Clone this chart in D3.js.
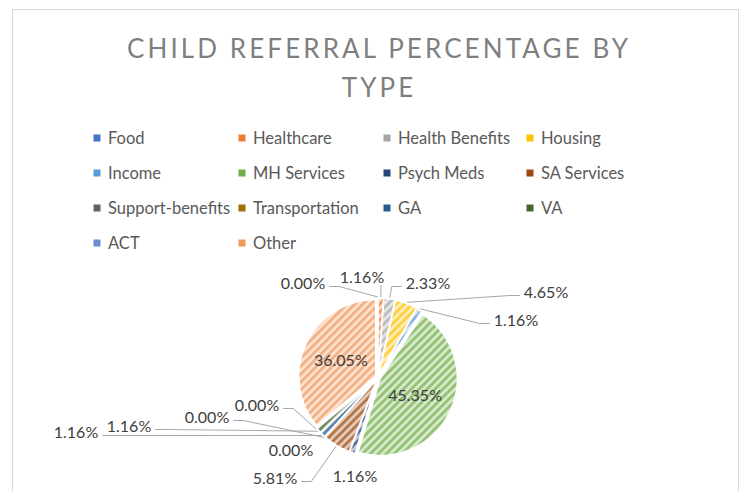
<!DOCTYPE html>
<html>
<head>
<meta charset="utf-8">
<script src="https://cdn.jsdelivr.net/npm/d3@7"></script>
<style>
  html, body { margin: 0; padding: 0; background: #ffffff; }
  svg { display: block; }
  text { font-family: Lato, "Open Sans", sans-serif; }
</style>
</head>
<body>
<svg id="chart" width="744" height="491"></svg>
<script>
// ---- data ----
const titleLines = ["CHILD REFERRAL PERCENTAGE BY", "TYPE"];
const categories = ["Food", "Healthcare", "Health Benefits", "Housing", "Income", "MH Services",
  "Psych Meds", "SA Services", "Support-benefits", "Transportation", "GA", "VA", "ACT", "Other"];
const percentages = [0.00, 1.16, 2.33, 4.65, 1.16, 45.35, 1.16, 5.81, 0.00, 0.00, 1.16, 1.16, 0.00, 36.05];
const colors = ["#4472C4", "#ED7D31", "#A5A5A5", "#FFC000", "#5B9BD5", "#70AD47", "#264478",
  "#9E480E", "#636363", "#997300", "#255E91", "#43682B", "#698ED0", "#F1975A"];
// label placement (layout, not data): inside labels use arc centroid
const labelLayout = [
  {x: 303, y: 283, leader: true},   // Food
  {x: 362, y: 277, leader: true},   // Healthcare
  {x: 428, y: 283, leader: true},   // Health Benefits
  {x: 546, y: 292, leader: true},   // Housing
  {x: 516, y: 320, leader: true},   // Income
  {inside: true},                   // MH Services
  {x: 355, y: 476, leader: false},  // Psych Meds
  {x: 275, y: 478, leader: true},   // SA Services
  {x: 291, y: 450, leader: false},  // Support-benefits
  {x: 207, y: 417, leader: true},   // Transportation
  {x: 76,  y: 432, leader: true},   // GA
  {x: 129, y: 426, leader: true},   // VA
  {x: 257, y: 405, leader: true},   // ACT
  {inside: true}                    // Other
];

const data = categories.map((c, i) => ({name: c, value: percentages[i], color: colors[i], layout: labelLayout[i]}));

const svg = d3.select("#chart");

// chart area border
svg.append("rect").attr("x", 12.5).attr("y", 9.5).attr("width", 726).attr("height", 500)
  .attr("fill", "#ffffff").attr("stroke", "#d9d9d9").attr("stroke-width", 1);

// title
const tl = svg.append("g").selectAll("text").data(titleLines).enter().append("text")
  .attr("x", 377.5).attr("y", (d, i) => 58 + i * 39)
  .attr("text-anchor", "middle")
  .attr("fill", "#7f7f7f")
  .attr("font-size", 26)
  .text(d => d);
const w0 = tl.node().getComputedTextLength();
const ls = (501 - w0) / (titleLines[0].length - 1);
tl.attr("letter-spacing", ls + "px").attr("x", 377.5 + ls / 2);

// legend
const legCols = [97, 242, 387, 530];
const legRows = [138, 173, 208, 243];
const li = svg.append("g").selectAll("g").data(data).enter().append("g")
  .attr("transform", (d, i) => `translate(${legCols[i % 4]},${legRows[Math.floor(i / 4)]})`);
li.append("rect").attr("x", -3.5).attr("y", -3.5).attr("width", 7).attr("height", 7)
  .attr("fill", d => d.color);
li.append("text").attr("x", 11).attr("y", 5.5).attr("font-size", 16.5).attr("fill", "#595959")
  .text(d => d.name);

// patterns (wide upward diagonal)
const defs = svg.append("defs");
const tint = (c, t) => d3.interpolateRgb(c, "#ffffff")(t);
const P = 5.6;
data.forEach((d, i) => {
  const p = defs.append("pattern").attr("id", "pat" + i)
    .attr("patternUnits", "userSpaceOnUse").attr("width", P).attr("height", P)
    .attr("patternTransform", "rotate(45)");
  p.append("rect").attr("width", P).attr("height", P).attr("fill", tint(d.color, 0.72));
  p.append("rect").attr("width", P / 2).attr("height", P).attr("fill", tint(d.color, 0.25));
});

// pie
const cx = 378, cy = 377.5, r = 77, explode = 2.5;
const pie = d3.pie().sort(null).value(d => d.value);
const arcs = pie(data);
const arc = d3.arc().innerRadius(0).outerRadius(r);
const mid = a => (a.startAngle + a.endAngle) / 2;
const dirOf = a => [Math.sin(mid(a)), -Math.cos(mid(a))];

const lineG = svg.append("g");
const pieG = svg.append("g").attr("transform", `translate(${cx},${cy})`);
pieG.selectAll("path").data(arcs).enter().append("path")
  .attr("transform", a => { const d = dirOf(a); return `translate(${d[0] * explode},${d[1] * explode})`; })
  .attr("d", arc)
  .attr("fill", (a, i) => `url(#pat${i})`)
  .attr("stroke", "#ffffff").attr("stroke-width", 1.5);

// labels
const fmt = v => v.toFixed(2) + "%";
const labG = svg.append("g");
arcs.forEach((a, i) => {
  const L = a.data.layout;
  const dir = dirOf(a);
  if (L.inside) {
    const c = arc.centroid(a);
    labG.append("text")
      .attr("x", cx + c[0] + dir[0] * explode).attr("y", cy + c[1] + dir[1] * explode + 6)
      .attr("text-anchor", "middle").attr("font-size", 16).attr("fill", "#404040")
      .text(fmt(a.data.value));
    return;
  }
  const t = labG.append("text").attr("x", L.x).attr("y", L.y + 6)
    .attr("text-anchor", "middle").attr("font-size", 16).attr("fill", "#404040")
    .text(fmt(a.data.value));
  if (!L.leader) return;
  const bw = t.node().getComputedTextLength();
  const sp = [cx + dir[0] * (r + explode + 1), cy + dir[1] * (r + explode + 1)];
  let pts;
  if (sp[0] > L.x - bw / 2 && sp[0] < L.x + bw / 2 + 4) {
    pts = [[sp[0], L.y + 8], sp];
  } else if (sp[0] >= L.x) {
    const x0 = L.x + bw / 2 + 4;
    pts = [[x0, L.y + 3.5], [Math.min(x0 + 10, sp[0]), L.y + 3.5], sp];
  } else {
    const x0 = L.x - bw / 2 - 4;
    pts = [[x0, L.y + 3.5], [Math.max(x0 - 10, sp[0]), L.y + 3.5], sp];
  }
  lineG.append("path").attr("d", d3.line()(pts))
    .attr("fill", "none").attr("stroke", "#a6a6a6").attr("stroke-width", 1);
});
</script>
</body>
</html>
